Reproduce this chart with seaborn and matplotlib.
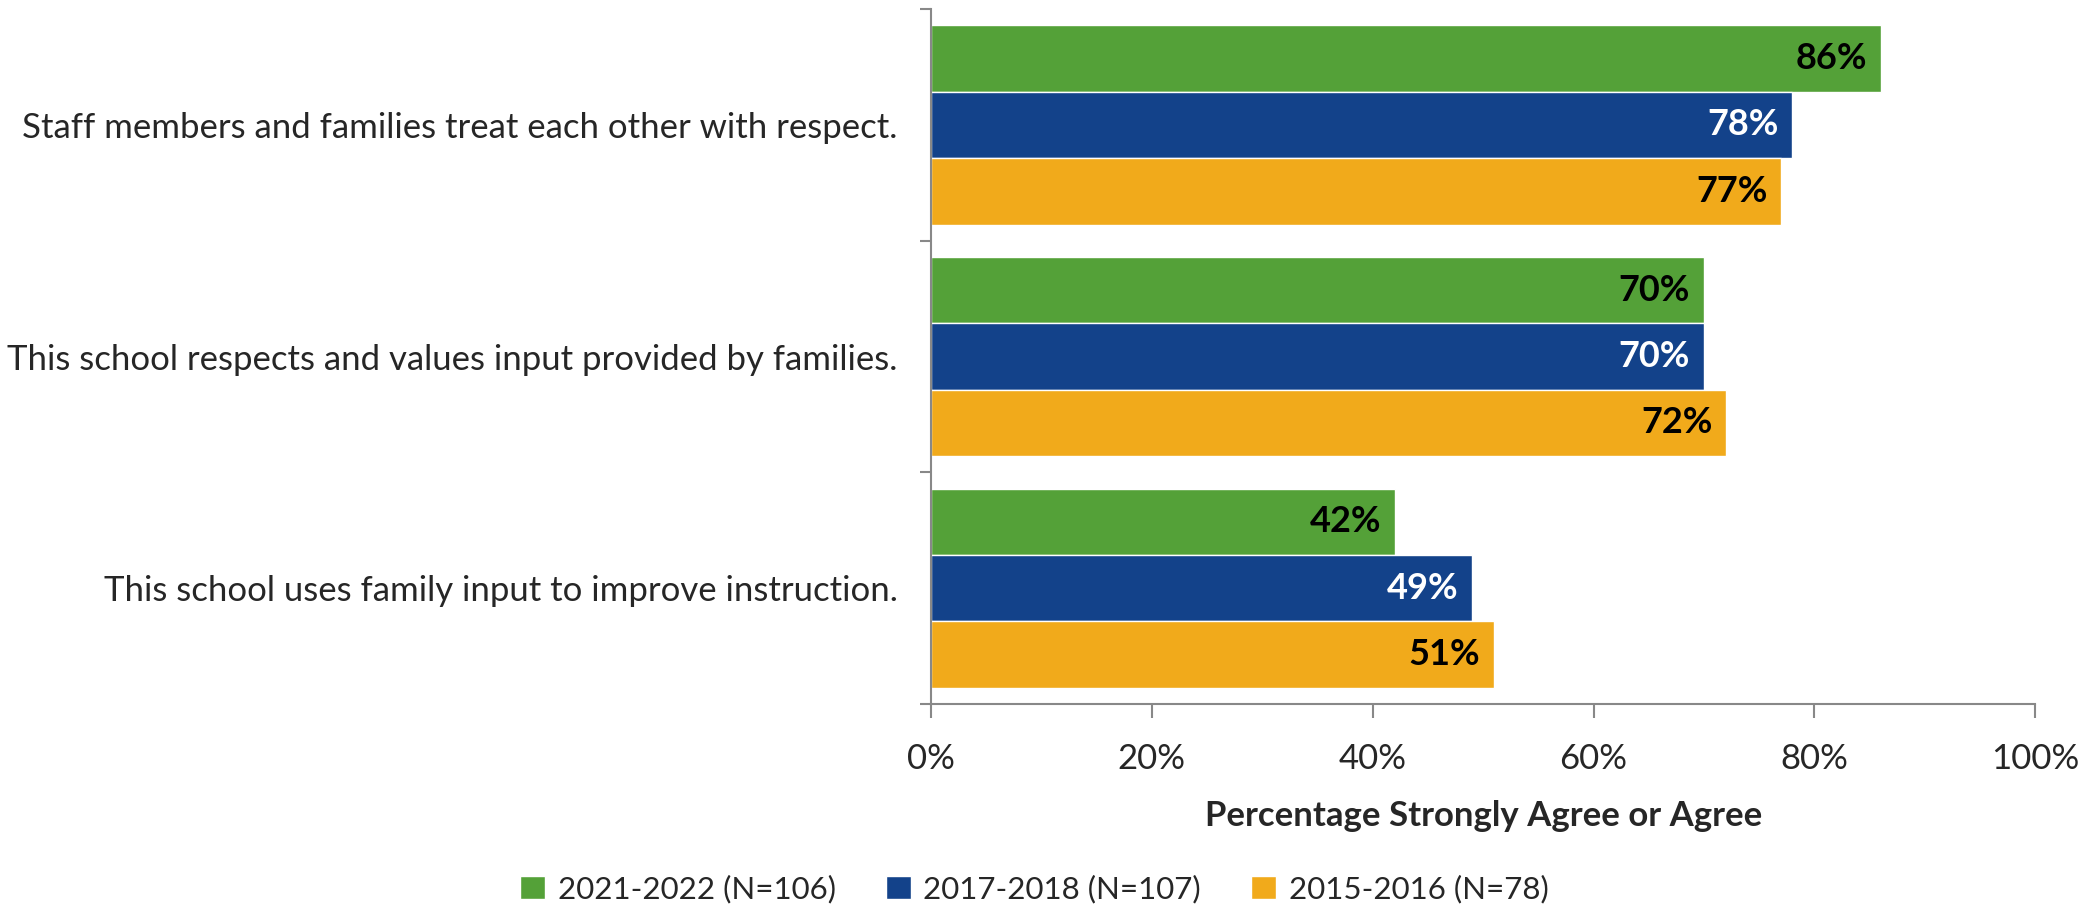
import matplotlib
matplotlib.use("Agg")
import matplotlib.pyplot as plt
import pandas as pd
import seaborn as sns

# data
statements = [
    "Staff members and families treat each other with respect.",
    "This school respects and values input provided by families.",
    "This school uses family input to improve instruction.",
]
years = ["2021-2022 (N=106)", "2017-2018 (N=107)", "2015-2016 (N=78)"]
pct_2021 = [86, 70, 42]
pct_2017 = [78, 70, 49]
pct_2015 = [77, 72, 51]

colors = ["#54A138", "#13428A", "#F1AA1B"]
label_colors = ["black", "white", "black"]

rows = []
for year, vals in zip(years, [pct_2021, pct_2017, pct_2015]):
    for stmt, v in zip(statements, vals):
        rows.append({"statement": stmt, "year": year, "pct": v})
df = pd.DataFrame(rows)

sns.set_style("white")
plt.rcParams["font.family"] = ["Lato", "DejaVu Sans"]

fig = plt.figure(figsize=(20.94, 9.10), dpi=100)
ax = fig.add_axes([0.4446, 0.2264, 0.5274, 0.7636])

sns.barplot(data=df, y="statement", x="pct", hue="year", order=statements,
            hue_order=years, palette=colors, orient="h", width=0.86,
            saturation=1, ax=ax, legend=True)

# value labels inside the bar ends
for cont, lc in zip(ax.containers, label_colors):
    ax.bar_label(cont, labels=[f"{v:.0f}%" for v in cont.datavalues],
                 padding=-10, color=lc, fontsize=26, fontweight="bold")
for t in ax.texts:
    t.set_horizontalalignment("right")

ax.set_xlim(0, 100)
ax.set_ylim(2.5, -0.5)
ax.set_xticks([0, 20, 40, 60, 80, 100])
ax.set_xticklabels([f"{x}%" for x in [0, 20, 40, 60, 80, 100]], fontsize=25)
ax.set_xlabel("Percentage Strongly Agree or Agree", fontsize=25,
              fontweight="bold", labelpad=18)
ax.set_ylabel("")
ax.tick_params(axis="y", which="major", length=0, labelsize=25, pad=24)
ax.set_yticks([-0.5, 0.5, 1.5, 2.5], minor=True)
ax.tick_params(axis="y", which="minor", length=8, color="#888888", width=1.5,
               direction="out", left=True)
ax.tick_params(axis="x", length=10, color="#888888", width=1.5, direction="out",
               bottom=True, pad=18)

for s in ["top", "right"]:
    ax.spines[s].set_visible(False)
for s in ["left", "bottom"]:
    ax.spines[s].set_color("#888888")
    ax.spines[s].set_linewidth(1.5)

handles, labels = ax.get_legend_handles_labels()
ax.legend_.remove()
fig.legend(handles, labels, loc="center", bbox_to_anchor=(0.494, 0.023),
           ncol=3, frameon=False, fontsize=22.5, handlelength=0.8,
           handleheight=0.8, columnspacing=1.6, handletextpad=0.4)

fig.savefig("out.png", dpi=100)
